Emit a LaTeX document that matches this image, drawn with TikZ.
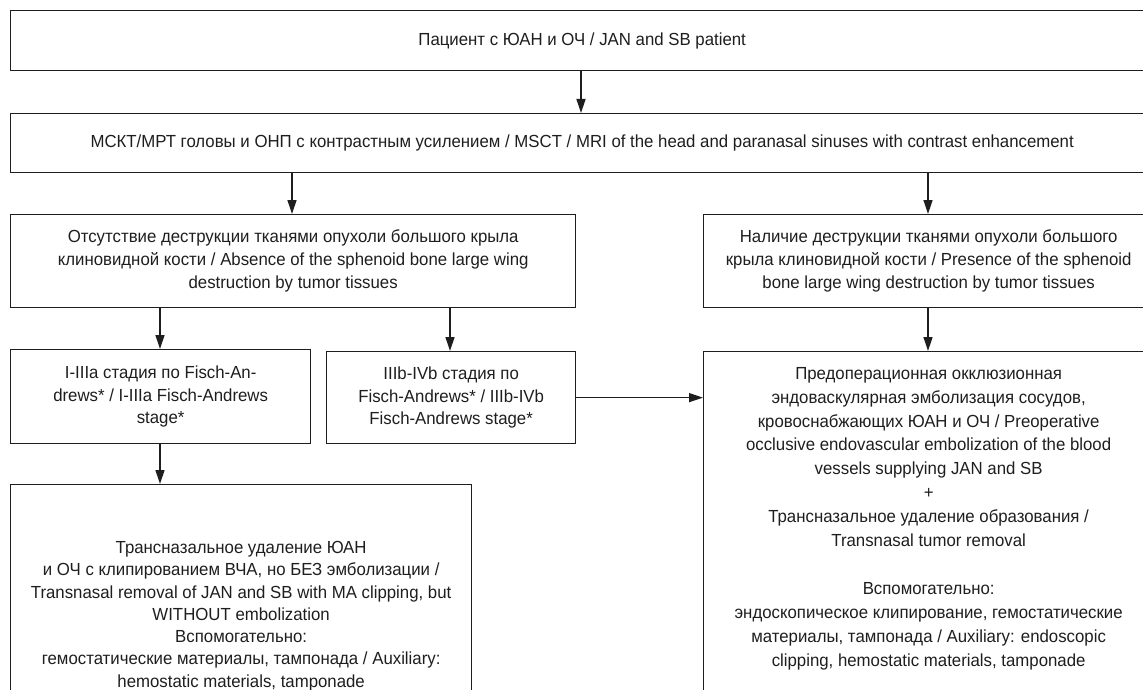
\documentclass[tikz,border=0pt]{standalone}
\usepackage{fontspec}
\setmainfont[FakeStretch=0.96]{Liberation Sans}
\usetikzlibrary{arrows.meta,positioning}
\definecolor{ink}{HTML}{1E1E1E}
\begin{document}
\begin{tikzpicture}[x=1pt,y=-1pt,
  every node/.style={font=\fontsize{17.5}{22.8}\selectfont, text=ink},
  box/.style={draw=ink, line width=1.3pt, inner sep=0pt, anchor=north west},
  txt/.style={align=center, inner sep=0pt},
  arr/.style={draw=ink, line width=1.3pt, -{Triangle[length=14pt,width=9pt]}}]
\clip (0,0) rectangle (1143,690);
% boxes
\node[box, minimum width=1143pt, minimum height=60pt] (b1) at (10,10) {};
\node[txt] at (b1.center) {Пациент с ЮАН и ОЧ / JAN and SB patient};
\node[box, minimum width=1143pt, minimum height=59pt] (b2) at (10,113) {};
\node[txt] at (b2.center) {МСКТ/МРТ головы и ОНП с контрастным усилением / MSCT / MRI of the head and paranasal sinuses with contrast enhancement};
\node[box, minimum width=565pt, minimum height=93pt] (b3) at (10,214) {};
\node[txt] at (b3.center) {Отсутствие деструкции тканями опухоли большого крыла\\клиновидной кости / Absence of the sphenoid bone large wing\\destruction by tumor tissues};
\node[box, minimum width=450pt, minimum height=93pt] (b4) at (703,214) {};
\node[txt] at (b4.center) {Наличие деструкции тканями опухоли большого\\крыла клиновидной кости / Presence of the sphenoid\\bone large wing destruction by tumor tissues};
\node[box, minimum width=300pt, minimum height=94pt] (b5) at (10,349) {};
\node[txt] at (b5.center) {I-IIIa стадия по Fisch-An-\\drews* / I-IIIa Fisch-Andrews\\stage*};
\node[box, minimum width=249pt, minimum height=92pt] (b6) at (326,351) {};
\node[txt] at (b6.center) {IIIb-IVb стадия по\\Fisch-Andrews* / IIIb-IVb\\Fisch-Andrews stage*};
\node[box, minimum width=450pt, minimum height=400pt] (b7) at (703,351) {};
\node[txt, anchor=north, font=\fontsize{17.5}{23.9}\selectfont] at ([yshift=-16pt]b7.north) {Предоперационная окклюзионная\\эндоваскулярная эмболизация сосудов,\\кровоснабжающих ЮАН и ОЧ / Preoperative\\occlusive endovascular embolization of the blood\\vessels supplying JAN and SB\\+\\Трансназальное удаление образования /\\Transnasal tumor removal\\[23.9pt]Вспомогательно:\\эндоскопическое клипирование, гемостатические\\материалы, тампонада / Auxiliary: endoscopic\\clipping, hemostatic materials, tamponade};
\node[box, minimum width=461pt, minimum height=300pt] (b8) at (10,484) {};
\node[txt, anchor=north, font=\fontsize{17.5}{22.3}\selectfont] at ([yshift=-57pt]b8.north) {Трансназальное удаление ЮАН\\и ОЧ с клипированием ВЧА, но БЕЗ эмболизации /\\Transnasal removal of JAN and SB with MA clipping, but\\WITHOUT embolization\\Вспомогательно:\\гемостатические материалы, тампонада / Auxiliary:\\hemostatic materials, tamponade};
% arrows
\coordinate (a1) at (581,0);
\draw[arr] (b1.south -| a1) -- (b2.north -| a1);
\coordinate (a2) at (292,0);
\draw[arr] (b2.south -| a2) -- (b3.north -| a2);
\coordinate (a3) at (928,0);
\draw[arr] (b2.south -| a3) -- (b4.north -| a3);
\draw[arr] (b4.south -| a3) -- (b7.north -| a3);
\coordinate (a4) at (160,0);
\draw[arr] (b3.south -| a4) -- (b5.north -| a4);
\draw[arr] (b5.south -| a4) -- (b8.north -| a4);
\coordinate (a5) at (450,0);
\draw[arr] (b3.south -| a5) -- (b6.north -| a5);
\draw[arr] (b6.east) -- (b6.east -| b7.west);
\end{tikzpicture}
\end{document}
